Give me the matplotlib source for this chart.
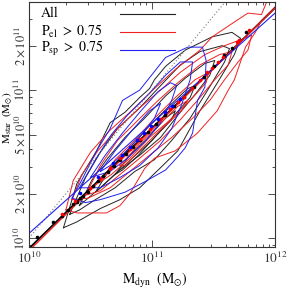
import numpy as np
import matplotlib
matplotlib.use("Agg")
import matplotlib.pyplot as plt
from matplotlib.ticker import FixedLocator, FixedFormatter, LogLocator, NullFormatter

plt.rcParams["font.family"] = ["STIXGeneral", "DejaVu Serif"]
plt.rcParams["mathtext.fontset"] = "stix"

# tick positions / labels
x_ticks = [1e10, 1e11, 1e12]
x_tick_labels = [r"$10^{10}$", r"$10^{11}$", r"$10^{12}$"]
y_ticks = [1e10, 2e10, 5e10, 1e11, 2e11]
y_tick_labels = [r"$10^{10}$", r"$2\times10^{10}$", r"$5\times10^{10}$",
                 r"$10^{11}$", r"$2\times10^{11}$"]

# fitted relations, end points in log10 M
fit_lx = [10.0, 12.0]
fit_all = [9.93, 11.555]
fit_el = [9.915, 11.555]
fit_sp = [10.032, 11.52]
one_to_one = [10.0, 12.0]

# binned points, log10 Mdyn / log10 Mstar
dots_all_x = [10.065, 10.195, 10.268, 10.317, 10.358, 10.390, 10.415, 10.439, 10.480,
              10.520, 10.561, 10.602, 10.642, 10.691, 10.740, 10.789, 10.846, 10.902,
              10.967, 11.033, 11.106, 11.179, 11.260, 11.341, 11.423, 11.504, 11.585,
              11.650, 11.764]
dots_all_y = [10.010, 10.108, 10.148, 10.192, 10.232, 10.245, 10.272, 10.286, 10.313,
              10.353, 10.387, 10.421, 10.448, 10.488, 10.529, 10.570, 10.617, 10.664,
              10.718, 10.772, 10.833, 10.894, 10.955, 11.022, 11.090, 11.164, 11.238,
              11.286, 11.394]
dots_el_x = [10.268, 10.374, 10.496, 10.577, 10.659, 10.740, 10.821, 10.902, 10.984,
             11.065, 11.146, 11.211, 11.260, 11.325, 11.390, 11.447, 11.488, 11.537,
             11.577, 11.691, 11.707, 11.789]
dots_el_y = [10.162, 10.250, 10.338, 10.405, 10.473, 10.541, 10.601, 10.669, 10.736,
             10.804, 10.872, 10.919, 10.953, 11.014, 11.068, 11.122, 11.149, 11.189,
             11.223, 11.324, 11.338, 11.405]
dots_sp_x = [10.415, 10.561, 10.683, 10.756, 10.821, 10.878, 10.935, 10.992, 11.049,
             11.106, 11.163, 11.228]
dots_sp_y = [10.304, 10.412, 10.507, 10.561, 10.615, 10.662, 10.709, 10.757, 10.804,
             10.851, 10.892, 10.939]

# density contours, vertices in (log10 Mdyn, log10 Mstar)
contours_all = [
    [(10.28, 10.07), (10.39, 10.37), (10.55, 10.59), (10.66, 10.78), (10.78, 10.85),
     (10.90, 10.95), (10.98, 11.01), (11.02, 11.07), (11.11, 11.16), (11.27, 11.27),
     (11.49, 11.36), (11.65, 11.39), (11.72, 11.35), (11.67, 11.24), (11.51, 11.02),
     (11.39, 10.86), (11.21, 10.59), (11.05, 10.46), (10.90, 10.34), (10.74, 10.26),
     (10.58, 10.20), (10.39, 10.11)],
    [(10.33, 10.16), (10.46, 10.41), (10.58, 10.58), (10.72, 10.74), (10.90, 10.88),
     (11.07, 11.03), (11.23, 11.17), (11.39, 11.26), (11.57, 11.30), (11.63, 11.28),
     (11.59, 11.19), (11.46, 11.01), (11.31, 10.81), (11.16, 10.66), (11.02, 10.53),
     (10.86, 10.45), (10.70, 10.34), (10.54, 10.26), (10.41, 10.19)],
    [(10.41, 10.22), (10.51, 10.39), (10.64, 10.54), (10.78, 10.68), (10.94, 10.81),
     (11.11, 10.96), (11.27, 11.08), (11.43, 11.18), (11.51, 11.20), (11.47, 11.10),
     (11.35, 10.97), (11.21, 10.83), (11.07, 10.68), (10.90, 10.56), (10.74, 10.46),
     (10.58, 10.34), (10.48, 10.27)],
    [(10.54, 10.31), (10.66, 10.47), (10.82, 10.61), (10.98, 10.76), (11.15, 10.90),
     (11.29, 11.01), (11.35, 11.03), (11.31, 10.95), (11.16, 10.81), (11.00, 10.66),
     (10.84, 10.54), (10.67, 10.41), (10.58, 10.34)],
    [(10.70, 10.43), (10.82, 10.56), (10.97, 10.68), (11.11, 10.81), (11.19, 10.86),
     (11.16, 10.80), (11.02, 10.68), (10.89, 10.56), (10.76, 10.46)],
]
contours_el = [
    [(10.30, 10.19), (10.36, 10.39), (10.50, 10.58), (10.66, 10.73), (10.82, 10.85),
     (11.02, 11.01), (11.19, 11.14), (11.39, 11.27), (11.49, 11.36), (11.67, 11.46),
     (11.78, 11.52), (11.89, 11.51), (11.94, 11.61), (11.98, 11.64), (12.01, 11.57),
     (11.89, 11.47), (11.84, 11.39), (11.76, 11.29), (11.67, 11.07), (11.62, 11.00),
     (11.53, 10.86), (11.37, 10.71), (11.19, 10.59), (11.02, 10.54), (10.94, 10.47),
     (10.82, 10.30), (10.74, 10.22), (10.63, 10.17), (10.39, 10.17)],
    [(10.35, 10.26), (10.43, 10.43), (10.56, 10.59), (10.72, 10.74), (10.90, 10.88),
     (11.07, 11.00), (11.23, 11.12), (11.43, 11.24), (11.59, 11.30), (11.72, 11.34),
     (11.81, 11.37), (11.78, 11.27), (11.70, 11.19), (11.59, 11.07), (11.47, 10.93),
     (11.33, 10.81), (11.16, 10.68), (10.98, 10.56), (10.82, 10.45), (10.66, 10.34),
     (10.48, 10.27)],
    [(10.46, 10.29), (10.58, 10.49), (10.72, 10.66), (10.89, 10.80), (11.05, 10.93),
     (11.21, 11.05), (11.39, 11.17), (11.55, 11.24), (11.65, 11.26), (11.62, 11.17),
     (11.51, 11.07), (11.37, 10.93), (11.23, 10.80), (11.07, 10.66), (10.90, 10.54),
     (10.74, 10.43), (10.58, 10.32)],
    [(10.58, 10.38), (10.70, 10.53), (10.86, 10.66), (11.02, 10.81), (11.19, 10.95),
     (11.35, 11.07), (11.46, 11.12), (11.44, 11.05), (11.31, 10.93), (11.15, 10.80),
     (10.98, 10.68), (10.82, 10.54), (10.67, 10.43)],
    [(10.74, 10.49), (10.89, 10.63), (11.05, 10.76), (11.21, 10.89), (11.29, 10.93),
     (11.24, 10.86), (11.08, 10.74), (10.92, 10.61), (10.78, 10.49)],
]
contours_sp = [
    [(10.35, 10.27), (10.44, 10.41), (10.55, 10.59), (10.66, 10.74), (10.76, 10.93),
     (10.90, 11.00), (11.11, 11.22), (11.29, 11.29), (11.41, 11.29), (11.44, 11.20),
     (11.43, 11.02), (11.37, 10.93), (11.33, 10.71), (11.27, 10.61), (11.21, 10.55),
     (11.11, 10.46), (10.94, 10.38), (10.78, 10.31), (10.58, 10.26), (10.46, 10.24)],
    [(10.41, 10.34), (10.54, 10.53), (10.67, 10.70), (10.80, 10.83), (10.97, 10.97),
     (11.11, 11.10), (11.23, 11.19), (11.33, 11.19), (11.31, 11.07), (11.24, 10.90),
     (11.16, 10.74), (11.05, 10.61), (10.90, 10.49), (10.74, 10.41), (10.58, 10.34)],
    [(10.50, 10.41), (10.62, 10.56), (10.76, 10.71), (10.90, 10.85), (11.05, 10.99),
     (11.15, 11.05), (11.20, 11.03), (11.16, 10.93), (11.07, 10.78), (10.94, 10.65),
     (10.80, 10.54), (10.66, 10.45)],
    [(10.58, 10.45), (10.70, 10.59), (10.84, 10.73), (10.98, 10.86), (11.07, 10.91),
     (11.02, 10.81), (10.92, 10.70), (10.78, 10.58), (10.66, 10.49)],
]

c_all, c_el, c_sp = "#222222", "#f02020", "#2020f0"

fig = plt.figure(figsize=(2.9, 2.93), dpi=100)
ax = fig.add_axes([29 / 290, 46 / 293, 246 / 290, 245 / 293])

for polys, col in [(contours_all, c_all), (contours_el, c_el), (contours_sp, c_sp)]:
    for poly in polys:
        arr = np.array(poly + poly[:1])
        ax.plot(10 ** arr[:, 0], 10 ** arr[:, 1], color=col, lw=0.7)

fx = 10 ** np.array(fit_lx)
ax.plot(fx, 10 ** np.array(one_to_one), color="#777777", lw=0.8, ls=(0, (1, 2)))
ax.plot(fx, 10 ** np.array(fit_all), color="black", lw=1.3)
ax.plot(fx, 10 ** np.array(fit_el), color=c_el, lw=1.0)
ax.plot(fx, 10 ** np.array(fit_sp), color=c_sp, lw=0.8)

ax.plot(10 ** np.array(dots_all_x), 10 ** np.array(dots_all_y), "o", color="black", ms=2.6, mew=0)
ax.plot(10 ** np.array(dots_el_x), 10 ** np.array(dots_el_y), "o", color="red", ms=2.6, mew=0)
ax.plot(10 ** np.array(dots_sp_x), 10 ** np.array(dots_sp_y), "o", color="blue", ms=2.6, mew=0)

ax.set_xscale("log")
ax.set_yscale("log")
ax.set_xlim(1e10, 1e12)
ax.set_ylim(10 ** 9.94, 10 ** 11.595)

ax.xaxis.set_major_locator(FixedLocator(x_ticks))
ax.xaxis.set_major_formatter(FixedFormatter(x_tick_labels))
ax.xaxis.set_minor_locator(LogLocator(base=10, subs=np.arange(2, 10)))
ax.xaxis.set_minor_formatter(NullFormatter())
ax.yaxis.set_major_locator(FixedLocator(y_ticks))
ax.yaxis.set_major_formatter(FixedFormatter(y_tick_labels))
ax.yaxis.set_minor_locator(LogLocator(base=10, subs=[3, 4, 6, 7, 8, 9]))
ax.yaxis.set_minor_formatter(NullFormatter())

ax.tick_params(which="both", direction="in", top=True, right=True, width=0.6,
               colors="#333333")
ax.tick_params(which="major", length=5)
ax.tick_params(which="minor", length=2.5)
ax.tick_params(axis="x", pad=3, labelsize=9.5)
ax.tick_params(axis="y", pad=1, labelsize=9)
for t in ax.get_yticklabels():
    t.set_rotation(90)
    t.set_va("center")
for s in ax.spines.values():
    s.set_linewidth(0.8)
    s.set_color("#333333")

fig.text(155 / 290, 1 - 281 / 293, r"$\mathrm{M_{dyn}}\ \ (\mathrm{M_{\odot}})$",
         ha="center", va="center", fontsize=10)
fig.text(7.5 / 290, 1 - 118 / 293, r"$\mathrm{M_{star}}\ \ (\mathrm{M_{\odot}})$",
         ha="center", va="center", rotation=90, fontsize=8)

legend_labels = ["All", r"$\mathrm{P_{el}}\ >\ 0.75$", r"$\mathrm{P_{sp}}\ >\ 0.75$"]
legend_colors = [c_all, c_el, c_sp]
for i, (lab, col) in enumerate(zip(legend_labels, legend_colors)):
    yy = 0.953 - i * 0.072
    ax.text(0.049, yy, lab, transform=ax.transAxes, ha="left", va="center", fontsize=10)
    ax.plot([0.37, 0.593], [yy - 0.003, yy - 0.003], transform=ax.transAxes,
            color=col, lw=0.8)

fig.savefig("out.png", dpi=100)
